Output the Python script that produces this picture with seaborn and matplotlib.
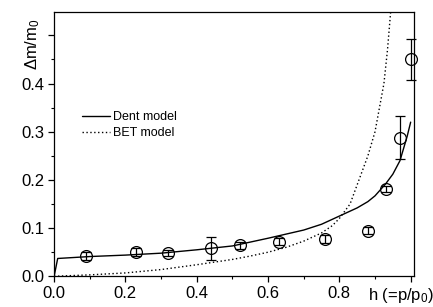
import numpy as np
import pandas as pd
import seaborn as sns
import matplotlib.pyplot as plt
from matplotlib.ticker import MultipleLocator
from matplotlib.transforms import offset_copy

# measured points
h_data = [0.09, 0.23, 0.32, 0.44, 0.52, 0.63, 0.76, 0.88, 0.93, 0.97, 1.00]
dm_data = [0.042, 0.050, 0.049, 0.058, 0.064, 0.072, 0.078, 0.095, 0.181, 0.288, 0.450]
dm_err = [0.008, 0.008, 0.006, 0.024, 0.008, 0.008, 0.008, 0.008, 0.007, 0.044, 0.042]

# model curves
h_dent = [0.0, 0.01, 0.1, 0.2, 0.3, 0.4, 0.5, 0.6, 0.7, 0.75, 0.8, 0.85, 0.88, 0.9, 0.93, 0.95, 0.97, 0.99, 1.0]
dm_dent = [0.0, 0.037, 0.041, 0.044, 0.048, 0.055, 0.063, 0.079, 0.096, 0.108, 0.125, 0.142, 0.155, 0.167, 0.192, 0.212, 0.24, 0.29, 0.32]
h_bet = [0.0, 0.1, 0.2, 0.3, 0.4, 0.5, 0.55, 0.6, 0.65, 0.7, 0.75, 0.78, 0.8, 0.83, 0.855, 0.88, 0.9, 0.925, 0.935, 0.944]
dm_bet = [0.0, 0.003, 0.007, 0.014, 0.024, 0.035, 0.042, 0.05, 0.06, 0.073, 0.09, 0.105, 0.12, 0.15, 0.2, 0.25, 0.3, 0.4, 0.47, 0.55]

sns.set_theme(style="ticks")
plt.rcParams['font.family'] = ['Liberation Sans', 'DejaVu Sans']
plt.rcParams['mathtext.fontset'] = 'custom'
plt.rcParams['mathtext.rm'] = 'Liberation Sans'
plt.rcParams['mathtext.it'] = 'Liberation Sans'
plt.rcParams['text.color'] = 'black'
plt.rcParams['axes.labelcolor'] = 'black'
plt.rcParams['xtick.color'] = 'black'
plt.rcParams['ytick.color'] = 'black'

fig, ax = plt.subplots(figsize=(4.33, 3.07), dpi=100)
fig.subplots_adjust(left=0.125, right=0.955, bottom=0.10, top=0.96)

dent = pd.DataFrame({"h": h_dent, "dm": dm_dent})
bet = pd.DataFrame({"h": h_bet, "dm": dm_bet})
sns.lineplot(data=dent, x="h", y="dm", ax=ax, color="black", lw=1.0,
             sort=False, estimator=None, label="Dent model")
sns.lineplot(data=bet, x="h", y="dm", ax=ax, color="black", lw=1.0,
             linestyle=(0, (1, 1.8)), sort=False, estimator=None, label="BET model")

ax.errorbar(h_data, dm_data, yerr=dm_err, fmt="o", mfc="none", mec="black",
            ms=8.5, mew=0.9, ecolor="black", elinewidth=0.9, capsize=3.5,
            capthick=0.9, color="black", clip_on=False, zorder=3)

ax.set_xlim(0, 1.008)
ax.set_ylim(0, 0.548)
ax.xaxis.set_minor_locator(MultipleLocator(0.1))
ax.yaxis.set_minor_locator(MultipleLocator(0.05))
ax.set_xticks([0, 0.2, 0.4, 0.6, 0.8, 1.0])
ax.set_xticklabels(["0.0", "0.2", "0.4", "0.6", "0.8", ""])
ax.set_yticks([0, 0.1, 0.2, 0.3, 0.4, 0.5])
ax.set_yticklabels(["0.0", "0.1", "0.2", "0.3", "0.4", ""])
ax.tick_params(which="major", length=4, width=0.9, labelsize=12, pad=3)
ax.tick_params(which="minor", length=2.5, width=0.8)
for s in ax.spines.values():
    s.set_linewidth(0.9)
    s.set_color("black")

ax.set_xlabel("")
ax.set_ylabel(r"$\Delta$m/m$_0$", fontsize=12)
ax.yaxis.set_label_coords(-0.035, 0.88)

# x label sits on the tick-label row, right of "0.8"
trans = offset_copy(ax.get_xaxis_transform(), fig=fig, y=-7, units="points")
ax.text(0.872, 0, "h (=p/p$_0$)", fontsize=12, ha="left", va="top",
        transform=offset_copy(ax.transAxes, fig=fig, y=-7, units="points"),
        clip_on=False)

leg = ax.legend(loc="upper left", bbox_to_anchor=(0.078, 0.625), frameon=False,
                fontsize=9, handlelength=2.2, handletextpad=0.3, labelspacing=0.3,
                borderpad=0, borderaxespad=0)

fig.savefig("out.png", dpi=100)
